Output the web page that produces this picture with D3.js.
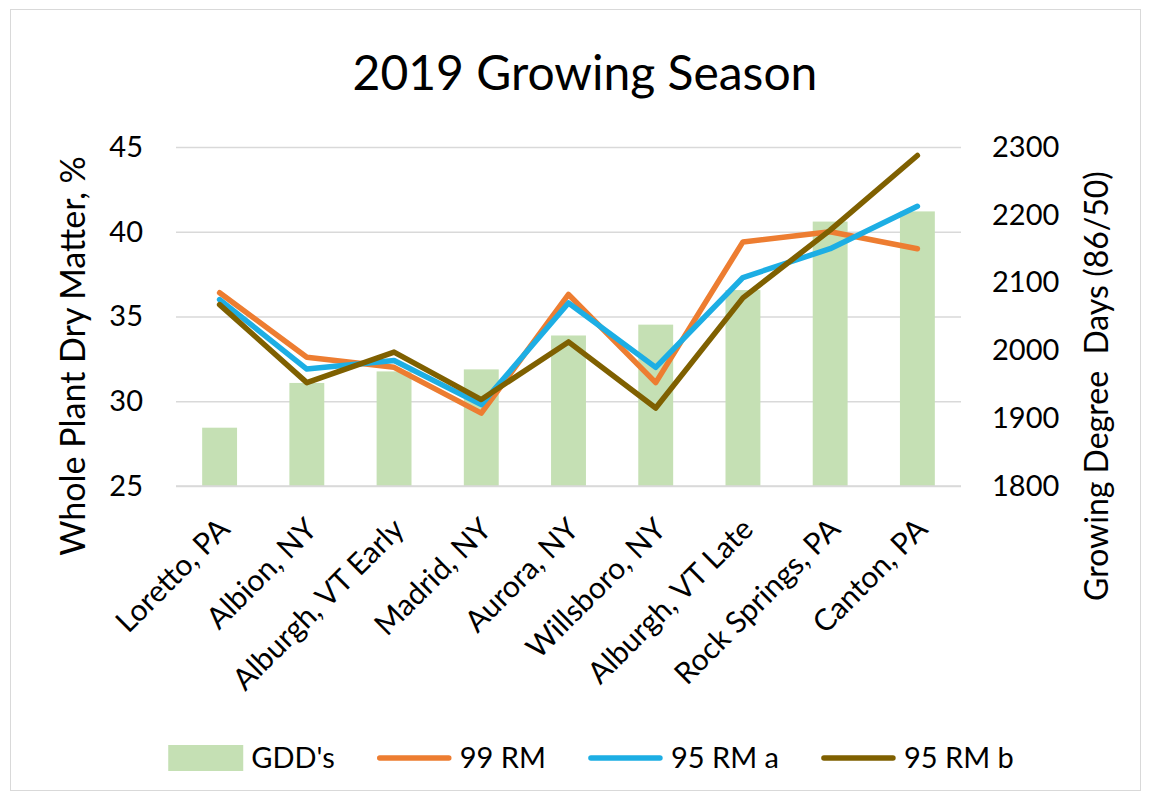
<!DOCTYPE html>
<html>
<head>
<meta charset="utf-8">
<script src="https://cdn.jsdelivr.net/npm/d3@7"></script>
<style>
  body { margin: 0; background: #fff; }
  text { font-family: Lato, "Noto Sans", sans-serif; fill: #000; }
</style>
</head>
<body>
<svg id="chart" width="1151" height="803"></svg>
<script>
// data
const sites = ["Loretto, PA", "Albion, NY", "Alburgh, VT Early", "Madrid, NY", "Aurora, NY",
  "Willsboro, NY", "Alburgh, VT Late", "Rock Springs, PA", "Canton, PA"];
const gdd = [1886, 1952, 1969, 1972, 2022, 2038, 2089, 2190, 2205];
const rm99 = [36.4, 32.6, 32.0, 29.3, 36.3, 31.1, 39.4, 40.0, 39.0];
const rm95a = [36.0, 31.9, 32.4, 29.8, 35.8, 32.0, 37.3, 39.0, 41.5];
const rm95b = [35.7, 31.1, 32.9, 30.1, 33.5, 29.6, 36.1, 40.1, 44.5];
const leftTicks = [25, 30, 35, 40, 45];
const rightTicks = [1800, 1900, 2000, 2100, 2200, 2300];

const series = [
  { name: "99 RM", values: rm99, color: "#ED7D31" },
  { name: "95 RM a", values: rm95a, color: "#1DAEE4" },
  { name: "95 RM b", values: rm95b, color: "#7F6000" }
];
const barColor = "#C5E0B4";

const svg = d3.select("#chart");
const plotLeft = 176, plotRight = 961, plotTop = 147, plotBottom = 486;

// chart border
svg.append("rect")
  .attr("x", 10.5).attr("y", 9.5)
  .attr("width", 1130).attr("height", 781)
  .attr("fill", "none").attr("stroke", "#d9d9d9");

// title
svg.append("text")
  .attr("x", 585).attr("y", 90)
  .attr("text-anchor", "middle")
  .style("font-size", "48px")
  .text("2019 Growing Season");

const x = d3.scaleBand()
  .domain(sites)
  .range([plotLeft, plotRight])
  .paddingInner(0.6)
  .paddingOuter(0.3);
const yL = d3.scaleLinear().domain([25, 45]).range([plotBottom, plotTop]);
const yR = d3.scaleLinear().domain([1800, 2300]).range([plotBottom, plotTop]);

// gridlines
svg.append("g")
  .attr("transform", "translate(" + plotLeft + ",0)")
  .call(d3.axisLeft(yL).tickValues(leftTicks).tickSize(-(plotRight - plotLeft)).tickFormat(""))
  .call(g => g.select(".domain").remove())
  .selectAll("line")
  .attr("stroke", "#d9d9d9")
  .attr("stroke-width", 1.5);

// left axis labels
svg.append("g")
  .attr("transform", "translate(" + plotLeft + ",0)")
  .call(d3.axisLeft(yL).tickValues(leftTicks).tickSize(0).tickPadding(33))
  .call(g => g.select(".domain").remove())
  .selectAll("text")
  .style("font-size", "29px")
  .style("font-family", "Lato");

// right axis labels
svg.append("g")
  .attr("transform", "translate(" + plotRight + ",0)")
  .call(d3.axisRight(yR).tickValues(rightTicks).tickSize(0).tickPadding(31).tickFormat(d3.format("d")))
  .call(g => g.select(".domain").remove())
  .selectAll("text")
  .style("font-size", "29px")
  .style("font-family", "Lato");

// bars (right axis)
svg.append("g").selectAll("rect")
  .data(sites)
  .enter()
  .append("rect")
  .attr("x", d => x(d))
  .attr("width", x.bandwidth())
  .attr("y", (d, i) => yR(gdd[i]))
  .attr("height", (d, i) => plotBottom - yR(gdd[i]))
  .attr("fill", barColor);

// bottom axis line on top of bars
svg.append("line")
  .attr("x1", plotLeft).attr("x2", plotRight)
  .attr("y1", plotBottom).attr("y2", plotBottom)
  .attr("stroke", "#d9d9d9")
  .attr("stroke-width", 1.5);

// lines (left axis)
const line = d3.line()
  .x((v, i) => x(sites[i]) + x.bandwidth() / 2)
  .y(v => yL(v));

series.forEach(s => {
  svg.append("path")
    .datum(s.values)
    .attr("d", line)
    .attr("fill", "none")
    .attr("stroke", s.color)
    .attr("stroke-width", 5.5)
    .attr("stroke-linejoin", "round")
    .attr("stroke-linecap", "round");
});

// category labels, rotated
svg.append("g").selectAll("text")
  .data(sites)
  .enter()
  .append("text")
  .attr("transform", d => "translate(" + (x(d) + x.bandwidth() / 2 + 12) + ",531) rotate(-45)")
  .attr("text-anchor", "end")
  .style("font-size", "30px")
  .text(d => d);

// axis titles
svg.append("text")
  .attr("transform", "translate(73,356) rotate(-90)")
  .attr("text-anchor", "middle")
  .attr("dy", "0.35em")
  .style("font-size", "34px")
  .text("Whole Plant Dry Matter, %");

svg.append("text")
  .attr("transform", "translate(1097,386) rotate(-90)")
  .attr("text-anchor", "middle")
  .attr("dy", "0.35em")
  .style("font-size", "32px")
  .style("white-space", "pre")
  .text("Growing Degree  Days (86/50)");

// legend, centred under the chart
const legendItems = [{ name: "GDD's", color: barColor, bar: true }].concat(series);
const legend = svg.append("g");
let lx = 0;
const legendY = 758;
legendItems.forEach(item => {
  if (item.bar) {
    legend.append("rect")
      .attr("x", lx).attr("y", legendY - 13)
      .attr("width", 75).attr("height", 26)
      .attr("fill", item.color);
  } else {
    legend.append("line")
      .attr("x1", lx + 3).attr("x2", lx + 72)
      .attr("y1", legendY).attr("y2", legendY)
      .attr("stroke", item.color)
      .attr("stroke-width", 5.5)
      .attr("stroke-linecap", "round");
  }
  const t = legend.append("text")
    .attr("x", lx + 83).attr("y", legendY)
    .attr("dy", "0.35em")
    .style("font-size", "29px")
    .text(item.name);
  lx += 83 + t.node().getComputedTextLength() + 42;
});
lx -= 42;
legend.attr("transform", "translate(" + (591 - lx / 2) + ",0)");
</script>
</body>
</html>
